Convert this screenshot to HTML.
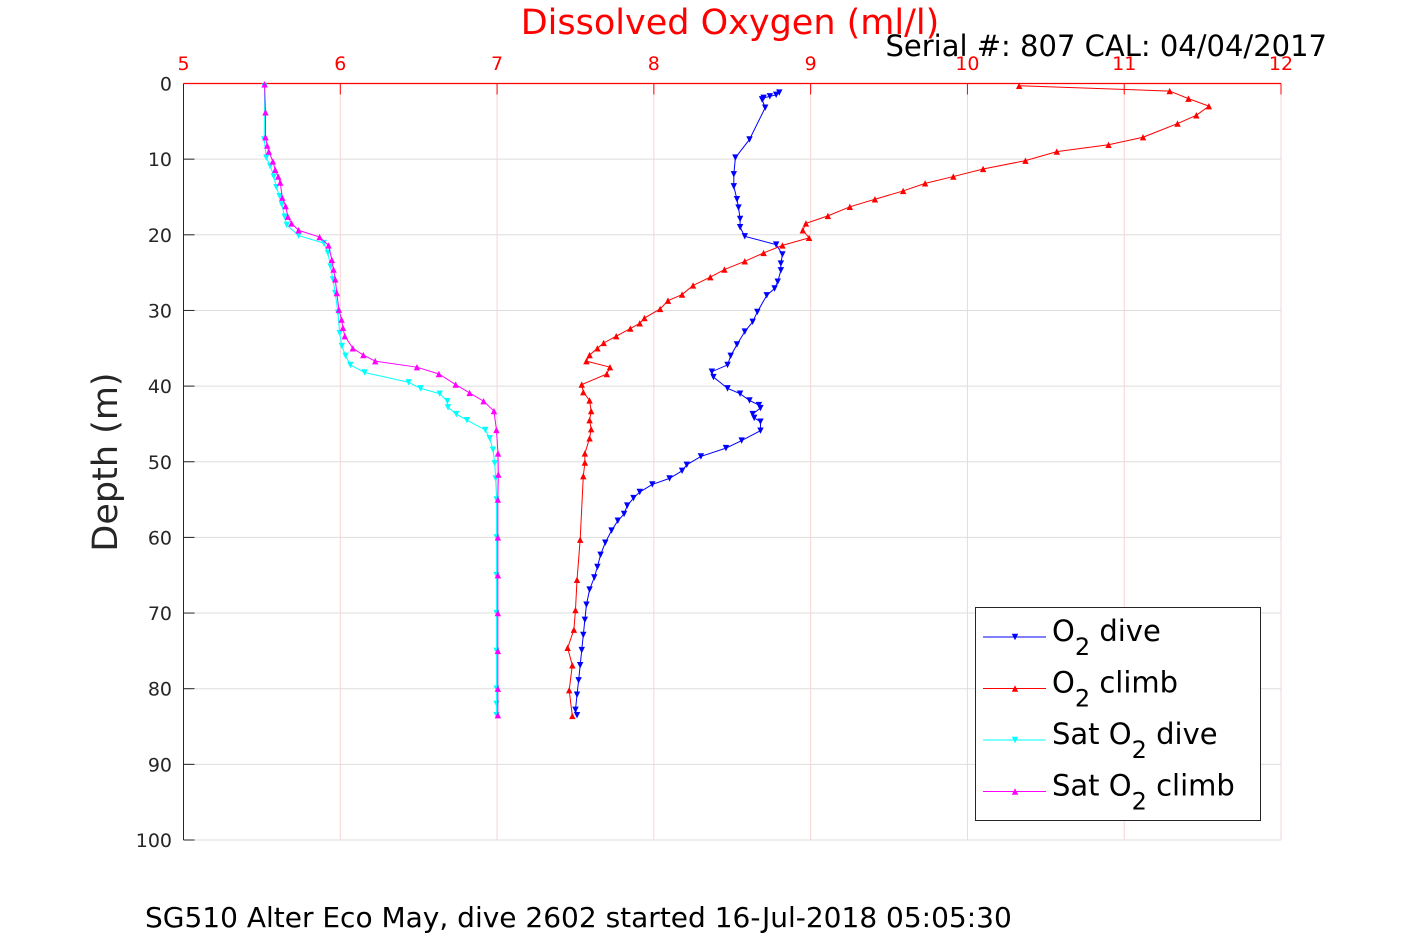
<!DOCTYPE html>
<html><head><meta charset="utf-8"><style>
html,body{margin:0;padding:0;background:#fff;}
svg{display:block;font-family:"DejaVu Sans","Liberation Sans",sans-serif;}
</style></head><body>
<svg id="chart" width="1417" height="945" viewBox="0 0 1417 945" xmlns="http://www.w3.org/2000/svg">
<rect x="0" y="0" width="1417" height="945" fill="#fff"/>
<g id="grid"></g>
<g id="axes"></g>
<g id="series"></g>
<text x="730" y="34" font-size="35" fill="#ff0000" text-anchor="middle">Dissolved Oxygen (ml/l)</text>
<text x="1327" y="56" font-size="29" fill="#000" text-anchor="end">Serial #: 807  CAL: 04/04/2017</text>
<text transform="translate(117,462) rotate(-90)" font-size="35" fill="#262626" text-anchor="middle">Depth (m)</text>
<text x="145" y="927" font-size="28" fill="#000">SG510 Alter Eco May, dive 2602 started 16-Jul-2018 05:05:30</text>
<g id="legend"></g>
</svg>
<script>
const xTicks=[5,6,7,8,9,10,11,12];
const yTicks=[0,10,20,30,40,50,60,70,80,90,100];
const o2DiveX=[8.80,8.78,8.74,8.70,8.69,8.71,8.61,8.52,8.51,8.51,8.53,8.54,8.55,8.55,8.58,8.78,8.82,8.81,8.81,8.79,8.77,8.72,8.66,8.63,8.58,8.53,8.49,8.47,8.37,8.38,8.47,8.55,8.61,8.67,8.68,8.63,8.64,8.68,8.68,8.56,8.46,8.30,8.21,8.18,8.10,7.99,7.91,7.87,7.83,7.81,7.77,7.73,7.69,7.66,7.64,7.62,7.59,7.57,7.56,7.55,7.54,7.53,7.52,7.51,7.50,7.51];
const o2DiveY=[1.2,1.5,1.7,1.9,2.1,3.2,7.4,9.8,12.0,13.6,15.3,16.4,17.9,19.0,20.2,21.3,22.6,23.8,24.7,26.2,27.1,28.0,30.2,31.5,32.8,34.5,36.0,37.2,38.1,38.8,40.3,41.0,41.9,42.5,42.9,43.7,44.2,44.7,45.9,47.2,48.2,49.3,50.4,51.2,52.2,53.0,54.0,54.8,55.8,56.9,57.8,59.1,60.7,62.3,63.9,65.3,66.9,68.9,70.9,72.9,74.9,76.9,78.9,80.8,82.8,83.5];
const o2ClimbX=[10.33,11.29,11.41,11.54,11.46,11.34,11.12,10.90,10.57,10.37,10.10,9.91,9.73,9.59,9.41,9.25,9.11,8.97,8.95,8.99,8.82,8.70,8.58,8.45,8.36,8.25,8.18,8.09,8.04,7.94,7.91,7.85,7.76,7.68,7.64,7.59,7.57,7.72,7.70,7.54,7.55,7.59,7.60,7.59,7.60,7.59,7.56,7.56,7.55,7.53,7.51,7.50,7.49,7.45,7.48,7.46,7.48];
const o2ClimbY=[0.3,1.0,2.0,3.0,4.2,5.3,7.1,8.1,9.0,10.2,11.3,12.3,13.2,14.2,15.3,16.3,17.5,18.5,19.4,20.4,21.4,22.4,23.5,24.6,25.6,26.7,27.9,28.7,29.8,31.0,31.7,32.4,33.4,34.3,35.0,35.9,36.7,37.5,38.4,39.8,40.8,41.9,43.3,44.5,45.7,46.9,48.9,50.1,51.9,60.3,65.6,69.6,72.2,74.6,76.9,80.2,83.6];
const satDiveX=[5.517,5.515,5.528,5.553,5.576,5.592,5.613,5.627,5.645,5.659,5.734,5.895,5.921,5.938,5.953,5.968,5.985,5.996,6.010,6.034,6.064,6.155,6.436,6.512,6.634,6.683,6.687,6.740,6.808,6.925,6.953,6.974,6.985,6.991,6.997,6.997,6.997,6.997,6.997,6.997,6.997,6.997];
const satDiveY=[0.4,7.4,9.8,10.9,12.3,13.7,14.9,16.0,17.6,18.7,20.1,21.1,22.4,24.2,25.9,27.7,30.3,33.0,34.7,36.0,37.2,38.2,39.5,40.3,41.0,42.0,42.8,43.7,44.5,45.8,46.9,48.4,50.2,52.2,55,60,65,70,75,80,82,83.5];
const satClimbX=[5.517,5.523,5.523,5.534,5.544,5.570,5.585,5.604,5.617,5.630,5.651,5.666,5.689,5.734,5.868,5.925,5.946,5.957,5.968,5.978,5.991,6.008,6.017,6.029,6.080,6.147,6.223,6.489,6.629,6.736,6.825,6.914,6.980,6.996,7.006,7.008,7.005,7.005,7.005,7.005,7.005,7.005,7.005];
const satClimbY=[0.1,3.8,7.1,8.2,9.0,10.3,11.4,12.3,13.1,15.1,16.2,17.6,18.5,19.4,20.3,21.4,23.3,24.6,25.9,27.7,29.9,31.2,32.3,33.4,35.0,35.9,36.7,37.5,38.4,39.8,40.9,42.0,43.3,45.8,48.9,51.7,55,60,65,70,75,80,83.5];

const NS="http://www.w3.org/2000/svg";
const L=183.5,R=1281,T=83.5,B=840;
const xs=v=>L+(v-5)/(12-5)*(R-L);
const ys=d=>T+d/100*(B-T);
function mk(tag,attrs,parent){const e=document.createElementNS(NS,tag);for(const k in attrs)e.setAttribute(k,attrs[k]);parent.appendChild(e);return e;}
const grid=document.getElementById('grid'),axes=document.getElementById('axes'),series=document.getElementById('series'),legend=document.getElementById('legend');
xTicks.forEach(t=>{
  const g=mk('line',{x1:xs(t),x2:xs(t),y1:T,y2:B,stroke:'#f7d4d4','stroke-width':1},grid);
  
  
  const tk=mk('line',{x1:xs(t),x2:xs(t),y1:T,y2:T+11,stroke:'#ff0000','stroke-width':1},axes);
  
  
  const lb=mk('text',{x:xs(t),y:70,'font-size':19,fill:'#ff0000','text-anchor':'middle'},axes);
  lb.textContent=t;
  
  
});
yTicks.forEach(t=>{
  const g=mk('line',{x1:L,x2:R,y1:ys(t),y2:ys(t),stroke:'#dedede','stroke-width':1},grid);
  
  
  const tk=mk('line',{x1:L,x2:L+11,y1:ys(t),y2:ys(t),stroke:'#262626','stroke-width':1},axes);
  
  
  const lb=mk('text',{x:172,y:ys(t)+7,'font-size':19,fill:'#262626','text-anchor':'end'},axes);
  lb.textContent=t;
  
  
});
const la=mk('line',{x1:L,x2:L,y1:T,y2:B,stroke:'#262626','stroke-width':1},axes);


const ta=mk('line',{x1:L,x2:R,y1:T,y2:T,stroke:'#ff0000','stroke-width':1.2},axes);



function tri(x,y,down){const s=3.2;return down?`${x-s},${y-s} ${x+s},${y-s} ${x},${y+s}`:`${x-s},${y+s} ${x+s},${y+s} ${x},${y-s}`;}
function drawSeries(X,Y,color,down,name){
  const g=mk('g',{},series);
  
  
  const pts=X.map((v,i)=>xs(v)+','+ys(Y[i])).join(' ');
  const pl=mk('polyline',{points:pts,fill:'none',stroke:color,'stroke-width':1},g);
  
  
  X.forEach((v,i)=>{
    const m=mk('polygon',{points:tri(xs(v),ys(Y[i]),down),fill:color},g);
    
    
  });
}
drawSeries(satDiveX,satDiveY,'#00ffff',true,'sat-o2-dive-series');
drawSeries(satClimbX,satClimbY,'#ff00ff',false,'sat-o2-climb-series');
drawSeries(o2DiveX,o2DiveY,'#0000ff',true,'o2-dive-series');
drawSeries(o2ClimbX,o2ClimbY,'#ff0000',false,'o2-climb-series');

const box=mk('rect',{x:975.5,y:607.5,width:285,height:213,fill:'#fff',stroke:'#262626','stroke-width':1},legend);


const entries=[['#0000ff',true,'','dive'],['#ff0000',false,'','climb'],['#00ffff',true,'Sat ','dive'],['#ff00ff',false,'Sat ','climb']];
entries.forEach((e,i)=>{
  const y=637+i*51.5;
  const g=mk('g',{},legend);
  
  
  mk('line',{x1:983,x2:1046,y1:y,y2:y,stroke:e[0],'stroke-width':1},g);
  mk('polygon',{points:tri(1015,y,e[1]),fill:e[0]},g);
  const t=mk('text',{x:1052,y:y+4,'font-size':29,fill:'#000'},g);
  t.innerHTML=e[2]+'O<tspan font-size="24" dy="14">2</tspan><tspan dy="-14"> '+e[3]+'</tspan>';
});
</script>
</body></html>
